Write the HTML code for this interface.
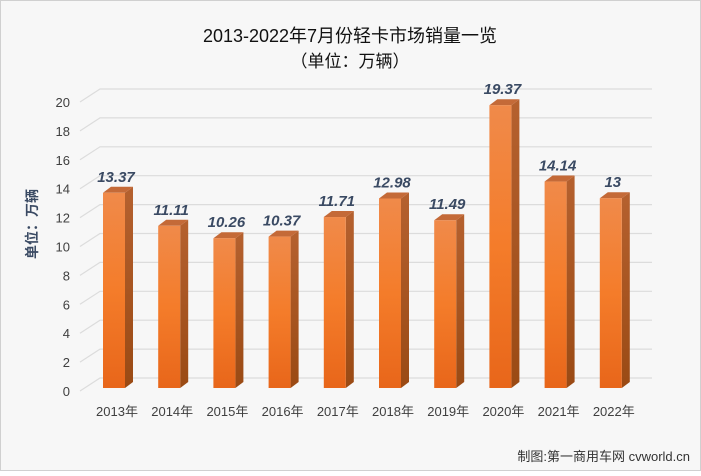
<!DOCTYPE html>
<html><head><meta charset="utf-8"><style>
body{margin:0;width:701px;height:471px;background:#fff;overflow:hidden}
svg text{font-family:"Liberation Sans","Noto Sans CJK SC",sans-serif}
</style></head><body>
<svg width="701" height="471" viewBox="0 0 701 471">
<defs>
<linearGradient id="f" x1="0" y1="0" x2="0" y2="1"><stop offset="0" stop-color="#f08a4a"/><stop offset="0.5" stop-color="#f47c2a"/><stop offset="1" stop-color="#e8661a"/></linearGradient>
<linearGradient id="s" x1="0" y1="0" x2="0" y2="1"><stop offset="0" stop-color="#b5612f"/><stop offset="1" stop-color="#9a4a14"/></linearGradient>
</defs>
<rect x="0.5" y="0.5" width="700" height="470" fill="#f7f7f7" stroke="#d0d0d0"/>
<text x="350" y="42" font-size="18" text-anchor="middle" fill="#111">2013-2022年7月份轻卡市场销量一览</text>
<text x="350" y="67" font-size="17" text-anchor="middle" fill="#111">（单位：万辆）</text>
<g stroke="#dcdcdc" stroke-width="1.2" fill="none" id="grid"></g>
<g font-size="13" fill="#404040" text-anchor="end" id="yl"></g>
<text transform="translate(37,224) rotate(-90)" font-size="14" font-weight="bold" fill="#3a4a63" text-anchor="middle">单位：万辆</text>
<g id="bars"></g>
<text x="690" y="461" font-size="13" text-anchor="end" fill="#333">制图:第一商用车网 cvworld.cn</text>
</svg>
<script>
var ns="http://www.w3.org/2000/svg";
function el(p,t,a,tx){var e=document.createElementNS(ns,t);for(var k in a)e.setAttribute(k,a[k]);if(tx!=null)e.textContent=tx;document.getElementById(p).appendChild(e);}
for(var i=0;i<=10;i++){var v=i*2;var fy=391-v*14.45;var by=fy-13;
el("grid","polyline",{points:"80,"+fy+" 100,"+by+" 652,"+by});
el("yl","text",{x:70,y:fy+5},v);}
var d=[13.37,11.11,10.26,10.37,11.71,12.98,11.49,19.37,14.14,13];
var lab=["13.37","11.11","10.26","10.37","11.71","12.98","11.49","19.37","14.14","13"];
for(var i=0;i<10;i++){var x=103+i*55.2,w=22,b=388,t=b-d[i]*14.6;
el("bars","polygon",{points:(x+w)+","+t+" "+(x+w+8)+","+(t-6)+" "+(x+w+8)+","+(b-6)+" "+(x+w)+","+b,fill:"url(#s)"});
el("bars","polygon",{points:x+","+t+" "+(x+8)+","+(t-6)+" "+(x+w+8)+","+(t-6)+" "+(x+w)+","+t,fill:"#c46a38"});
el("bars","rect",{x:x,y:t,width:w,height:b-t,fill:"url(#f)"});
el("bars","text",{x:x+13,y:t-11,"font-size":15,"font-weight":"bold","font-style":"italic",fill:"#3a4a63","text-anchor":"middle"},lab[i]);
el("bars","text",{x:x+14,y:416,"font-size":13,fill:"#404040","text-anchor":"middle"},(2013+i)+"年");}
</script>
</body></html>
